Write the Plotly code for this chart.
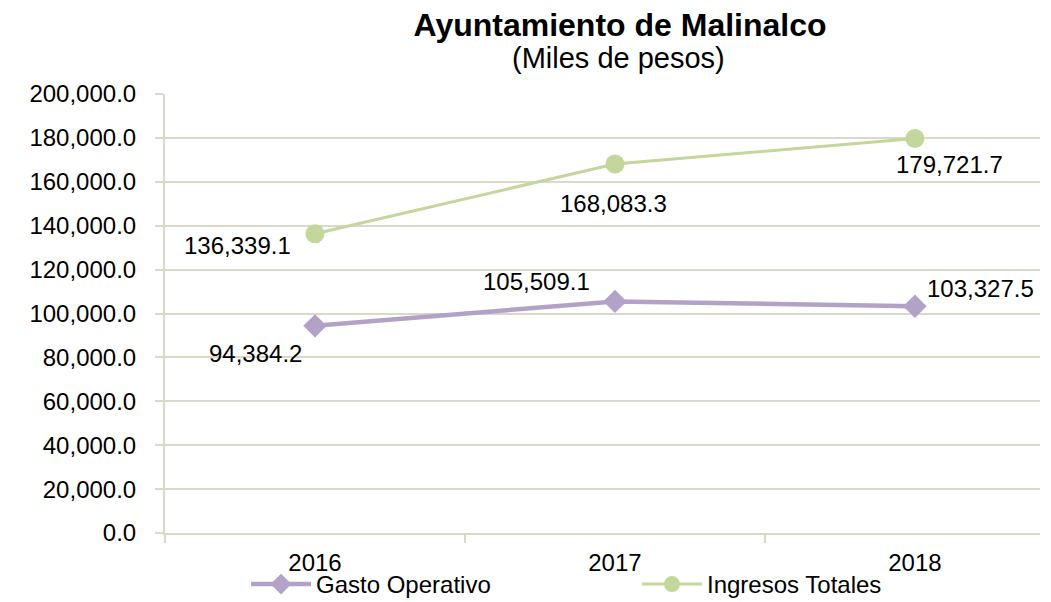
import plotly.graph_objects as go

years = ['2016', '2017', '2018']
gasto_operativo = [94384.2, 105509.1, 103327.5]
ingresos_totales = [136339.1, 168083.3, 179721.7]
y_ticks = list(range(0, 200001, 20000))

PURPLE = '#b3a2c7'
GREEN = '#c3d69b'
GRID = '#d9d9c9'
FONT = 'Liberation Sans, Arial, sans-serif'

# page body adds an 8px margin, so the figure is drawn 8px smaller
W, H = 1043, 594
L, T, R, B = 157, 86, 11, 69
PH = H - T - B
PW = W - L - R

x = list(range(len(years)))

fig = go.Figure()
fig.add_trace(go.Scatter(
    x=x, y=gasto_operativo, name='Gasto Operativo', mode='lines+markers',
    line=dict(color=PURPLE, width=4.5),
    marker=dict(symbol='diamond', size=18, color=PURPLE)))
fig.add_trace(go.Scatter(
    x=x, y=ingresos_totales, name='Ingresos Totales', mode='lines+markers',
    line=dict(color=GREEN, width=3),
    marker=dict(symbol='circle', size=19, color=GREEN)))

# data labels (offsets in pixels from each point)
gasto_offsets = [(-59, -28), (-78, 20), (66, 18)]
ingresos_offsets = [(-77, -12), (-1, -39), (35, -26)]
for vals, offs in ((gasto_operativo, gasto_offsets),
                   (ingresos_totales, ingresos_offsets)):
    for i, v in enumerate(vals):
        fig.add_annotation(
            x=x[i], y=v, text='{:,.1f}'.format(v), showarrow=False,
            xshift=offs[i][0], yshift=offs[i][1],
            font=dict(size=24, color='#000000', family=FONT))

fig.add_annotation(
    text='(Miles de pesos)', xref='paper', yref='paper',
    x=(610 - L) / PW, y=(PH + 36) / PH, showarrow=False,
    xanchor='center', yanchor='middle',
    font=dict(size=29, color='#000000', family=FONT))

fig.update_layout(
    width=W, height=H,
    margin=dict(l=L, r=R, t=T, b=B, autoexpand=False),
    paper_bgcolor='white', plot_bgcolor='white',
    font=dict(family=FONT, size=24, color='#000000'),
    title=dict(
        text='<b>Ayuntamiento de Malinalco</b>',
        x=612 / W, xanchor='center', xref='container',
        y=1 - 17 / H, yanchor='middle', yref='container',
        font=dict(size=32, family=FONT)),
    legend=dict(orientation='h', x=(246 - 165) / PW, xanchor='left',
                y=-(B + 5) / PH, yanchor='bottom', font=dict(size=24),
                entrywidth=316, entrywidthmode='pixels',
                itemwidth=60, bgcolor='rgba(0,0,0,0)'),
    showlegend=True,
)
fig.update_xaxes(
    range=[-0.5, 2.417], tickvals=x, ticktext=years, ticks='',
    showgrid=False, showline=True, linecolor=GRID, linewidth=2,
    zeroline=False, tickfont=dict(size=24), automargin=False,
    ticklabelstandoff=7,
    minor=dict(tick0=-0.5, dtick=1, ticks='outside', ticklen=8,
               tickcolor=GRID, tickwidth=2, showgrid=False))
fig.update_yaxes(
    range=[0, 200000], tickvals=y_ticks, tickformat=',.1f',
    showgrid=True, gridcolor=GRID, gridwidth=2,
    showline=True, linecolor=GRID, linewidth=2,
    ticks='outside', ticklen=8, tickcolor=GRID, tickwidth=2,
    zeroline=False, tickfont=dict(size=24), automargin=False,
    ticklabelstandoff=14)

fig.write_html('out.html')
